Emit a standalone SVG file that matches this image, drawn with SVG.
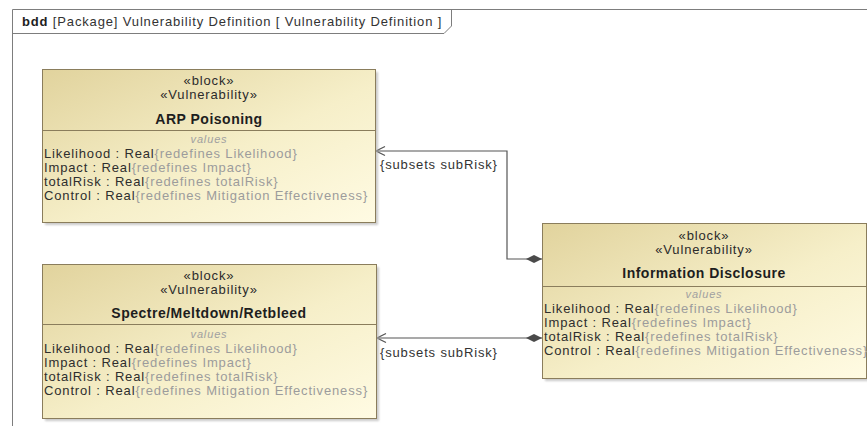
<svg xmlns="http://www.w3.org/2000/svg" width="867" height="426" viewBox="0 0 867 426">
  <style>
    text { font-family: "Liberation Sans", Arial, sans-serif; letter-spacing: 0.85px; }
    .frame { fill: none; stroke: #7d7d7d; stroke-width: 1; }
    .box { fill: url(#blockFill); stroke: #8a7d5c; stroke-width: 1; }
    .shadow { fill: #b4b4b4; opacity: 0.7; filter: url(#soft); }
    .sep { stroke: #8a7d5c; stroke-width: 1; }
    .st { font-size: 13px; fill: #2b2b2b; text-anchor: middle; }
    .name { font-size: 14px; font-weight: bold; fill: #1e1e1e; text-anchor: middle; letter-spacing: 0.5px; }
    .cmp { font-size: 11px; font-style: italic; fill: #a0a0a0; text-anchor: middle; }
    .prop { font-size: 13px; fill: #2e2e2e; }
    .grey { fill: #9c9c9c; }
    .conn { fill: none; stroke: #555555; stroke-width: 1.2; }
    .lbl { font-size: 13px; fill: #333333; }
    .hdr { font-size: 13px; fill: #333333; }
  </style>
  <defs>
    <linearGradient id="blockFill" x1="0" y1="0" x2="1" y2="1">
      <stop offset="0" stop-color="#e1d39d"/>
      <stop offset="0.55" stop-color="#f6efc9"/>
      <stop offset="1" stop-color="#fffbe3"/>
    </linearGradient>
    <filter id="soft" x="-5%" y="-5%" width="110%" height="110%">
      <feGaussianBlur stdDeviation="1"/>
    </filter>
    <marker id="diamond" viewBox="0 -5 17 10" refX="0" refY="0" markerWidth="17" markerHeight="10" markerUnits="userSpaceOnUse" orient="auto">
      <path d="M0,0 L8,-4 L16,0 L8,4 Z" fill="#4a4a4a"/>
    </marker>
    <marker id="openArrow" viewBox="-11 -6 12 12" refX="0" refY="0" markerWidth="12" markerHeight="12" markerUnits="userSpaceOnUse" orient="auto">
      <path d="M-9,-4.5 L0,0 L-9,4.5" fill="none" stroke="#555555" stroke-width="1.2"/>
    </marker>
  </defs>

  <rect x="0" y="0" width="867" height="426" fill="#ffffff"/>

  <!-- diagram frame with name tab -->
  <g id="frame">
    <path class="frame" d="M12.5,426 V9.5 H867"/>
    <path class="frame" d="M12.5,33.5 H444 L451.5,26 V9.5"/>
    <text class="hdr" x="22" y="26"><tspan font-weight="bold" fill="#1e1e1e">bdd</tspan> [Package] Vulnerability Definition [ Vulnerability Definition ]</text>
  </g>

  <!-- connectors: part associations, diamond at the owning block -->
  <g id="connectors">
    <path class="conn" d="M542,259 H507 V151 H376" marker-start="url(#diamond)" marker-end="url(#openArrow)"/>
    <text class="lbl" x="380" y="169">{subsets subRisk}</text>
    <path class="conn" d="M542,338 H377" marker-start="url(#diamond)" marker-end="url(#openArrow)"/>
    <text class="lbl" x="380" y="357">{subsets subRisk}</text>
  </g>

  <!-- block: ARP Poisoning -->
  <g id="arp-poisoning">
    <rect class="shadow" x="45" y="72" width="333" height="153"/>
    <rect class="box" x="42.5" y="69.5" width="333" height="153"/>
    <line class="sep" x1="42.5" y1="130.5" x2="375.5" y2="130.5"/>
    <text class="st" x="209" y="85">«block»</text>
    <text class="st" x="209" y="99">«Vulnerability»</text>
    <text class="name" x="209" y="124">ARP Poisoning</text>
    <text class="cmp" x="209" y="143">values</text>
    <text class="prop" x="44" y="158">Likelihood : Real<tspan class="grey">{redefines Likelihood}</tspan></text>
    <text class="prop" x="44" y="172">Impact : Real<tspan class="grey">{redefines Impact}</tspan></text>
    <text class="prop" x="44" y="186">totalRisk : Real<tspan class="grey">{redefines totalRisk}</tspan></text>
    <text class="prop" x="44" y="200">Control : Real<tspan class="grey">{redefines Mitigation Effectiveness}</tspan></text>
  </g>

  <!-- block: Spectre/Meltdown/Retbleed -->
  <g id="spectre-meltdown-retbleed">
    <rect class="shadow" x="45" y="267" width="334" height="154"/>
    <rect class="box" x="42.5" y="264.5" width="334" height="154"/>
    <line class="sep" x1="42.5" y1="324.5" x2="376.5" y2="324.5"/>
    <text class="st" x="209" y="280">«block»</text>
    <text class="st" x="209" y="294">«Vulnerability»</text>
    <text class="name" x="209" y="318">Spectre/Meltdown/Retbleed</text>
    <text class="cmp" x="209" y="338">values</text>
    <text class="prop" x="44" y="353">Likelihood : Real<tspan class="grey">{redefines Likelihood}</tspan></text>
    <text class="prop" x="44" y="367">Impact : Real<tspan class="grey">{redefines Impact}</tspan></text>
    <text class="prop" x="44" y="381">totalRisk : Real<tspan class="grey">{redefines totalRisk}</tspan></text>
    <text class="prop" x="44" y="395">Control : Real<tspan class="grey">{redefines Mitigation Effectiveness}</tspan></text>
  </g>

  <!-- block: Information Disclosure -->
  <g id="information-disclosure">
    <rect class="shadow" x="545" y="226" width="324" height="155"/>
    <rect class="box" x="542.5" y="223.5" width="324" height="155"/>
    <line class="sep" x1="542.5" y1="286.5" x2="866.5" y2="286.5"/>
    <text class="st" x="704" y="240">«block»</text>
    <text class="st" x="704" y="254">«Vulnerability»</text>
    <text class="name" x="704" y="278">Information Disclosure</text>
    <text class="cmp" x="704" y="298">values</text>
    <text class="prop" x="544" y="313">Likelihood : Real<tspan class="grey">{redefines Likelihood}</tspan></text>
    <text class="prop" x="544" y="327">Impact : Real<tspan class="grey">{redefines Impact}</tspan></text>
    <text class="prop" x="544" y="341">totalRisk : Real<tspan class="grey">{redefines totalRisk}</tspan></text>
    <text class="prop" x="544" y="355">Control : Real<tspan class="grey">{redefines Mitigation Effectiveness}</tspan></text>
  </g>
</svg>
